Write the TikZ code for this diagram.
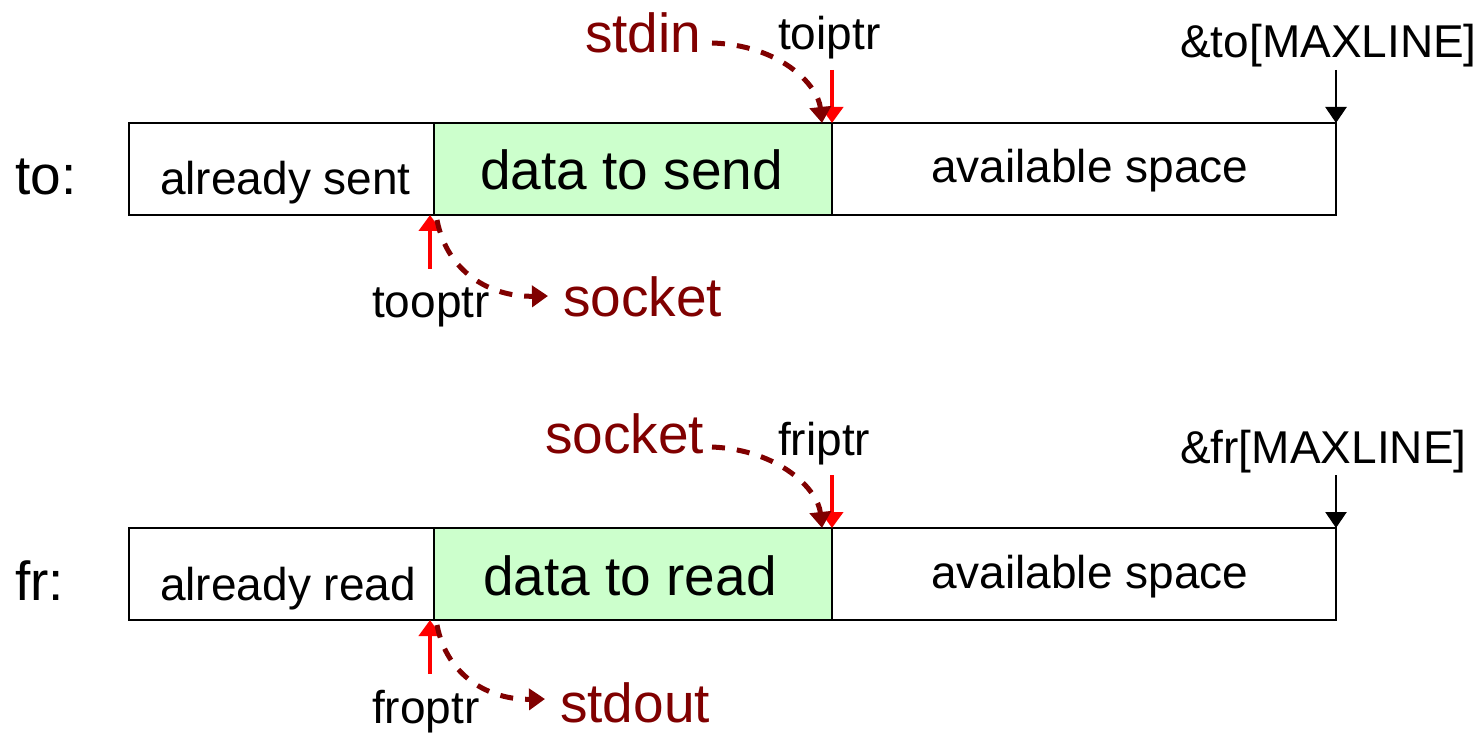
\documentclass[tikz,border=0pt]{standalone}
\usepackage{fontspec}
\setmainfont{Liberation Sans}
\usetikzlibrary{arrows.meta}
\definecolor{darkred}{HTML}{800000}
\definecolor{fillgreen}{HTML}{CCFFCC}
\tikzset{
  cell/.style={draw=black, line width=1.6pt},
  txt/.style={anchor=base west, inner sep=0pt, font=\fontsize{46}{50}\selectfont},
  big/.style={anchor=base west, inner sep=0pt, font=\fontsize{55}{60}\selectfont},
  redptr/.style={draw=red, line width=4pt, -{Triangle[width=22pt,length=16pt]}},
  blkptr/.style={draw=black, line width=2.6pt, -{Triangle[width=21pt,length=16pt]}},
  flow/.style={draw=darkred, line width=5pt, dash pattern=on 13pt off 12pt,
    -{Triangle[width=21pt,length=16pt]}}
}
\begin{document}
\begin{tikzpicture}[x=1pt,y=-1pt]
\useasboundingbox (0,0) rectangle (1484,735);

% ---------- "to" buffer ----------
\fill[fillgreen] (434,123) rectangle (832,215);
\draw[cell] (129,123) rectangle (1336,215);
\draw[cell] (434,123) -- (434,215);
\draw[cell] (832,123) -- (832,215);

\node[big] (tolbl) at (15,195) {to:};
\node[txt] (tosent) at (160,195) {already sent};
\node[big] (todata) at (480,190) {data to send};
\node[txt] (tofree) at (931,183) {available space};

\coordinate (toi) at (832,123);
\coordinate (too) at (430,215);
\coordinate (toend) at (1336,123);
\coordinate (toitop) at (832,70);
\coordinate (toobot) at (430,269);
\coordinate (toendtop) at (1336,70);

\node[big, text=darkred] (stdin) at (585,53) {stdin};
\node[txt] (toiptr) at (778,50) {toiptr};
\node[txt] (tomax) at (1180,58) {\&to[MAXLINE]};
\node[big, text=darkred] (sock1) at (563,317) {socket};
\node[txt] (tooptr) at (372,318) {tooptr};

\draw[redptr] (toitop) -- (toi);
\draw[blkptr] (toendtop) -- (toend);
\draw[redptr] (toobot) -- (too);

\coordinate (stdinr) at (712,43);
\coordinate (toihit) at (822,123);
\draw[flow] (stdinr) .. controls (780,45) and (818,85) .. (toihit);
\coordinate (toostart) at (437,220);
\coordinate (sock1l) at (548,296);
\draw[flow] (toostart) .. controls (447,272) and (490,297) .. (sock1l);

% ---------- "fr" buffer ----------
\fill[fillgreen] (434,528) rectangle (832,620);
\draw[cell] (129,528) rectangle (1336,620);
\draw[cell] (434,528) -- (434,620);
\draw[cell] (832,528) -- (832,620);

\node[big] (frlbl) at (15,600) {fr:};
\node[txt] (frread) at (160,600) {already read};
\node[big] (frdata) at (483,595) {data to read};
\node[txt] (frfree) at (931,588) {available space};

\coordinate (fri) at (832,528);
\coordinate (fro) at (430,620);
\coordinate (frend) at (1336,528);
\coordinate (fritop) at (832,475);
\coordinate (frobot) at (430,674);
\coordinate (frendtop) at (1336,475);

\node[big, text=darkred] (sock2) at (545,453) {socket};
\node[txt] (friptr) at (778,455) {friptr};
\node[txt] (frmax) at (1180,463) {\&fr[MAXLINE]};
\node[big, text=darkred] (stdout) at (560,722) {stdout};
\node[txt] (froptr) at (372,723) {froptr};

\draw[redptr] (fritop) -- (fri);
\draw[blkptr] (frendtop) -- (frend);
\draw[redptr] (frobot) -- (fro);

\coordinate (sock2r) at (712,447);
\coordinate (frihit) at (822,528);
\draw[flow] (sock2r) .. controls (780,450) and (818,490) .. (frihit);
\coordinate (frostart) at (437,625);
\coordinate (stdoutl) at (545,699);
\draw[flow] (frostart) .. controls (447,677) and (490,700) .. (stdoutl);
\end{tikzpicture}
\end{document}
